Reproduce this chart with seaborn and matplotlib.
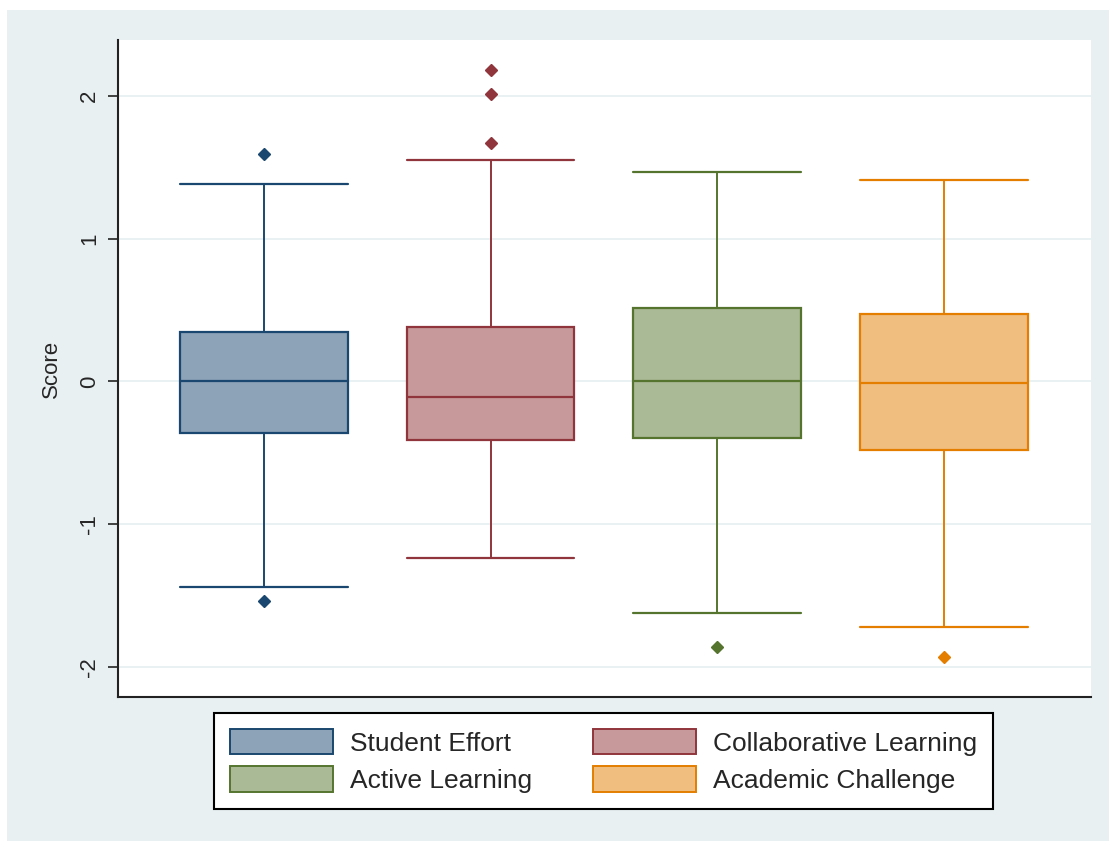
import matplotlib
matplotlib.use("Agg")
import matplotlib.pyplot as plt
from matplotlib.patches import Patch, Rectangle
import numpy as np
import seaborn as sns

# summary statistics
categories = ["Student Effort", "Collaborative Learning", "Active Learning", "Academic Challenge"]
whisker_low = [-1.443, -1.24, -1.625, -1.723]
q1 = [-0.364, -0.413, -0.40, -0.483]
medians = [0.0, -0.112, 0.0, -0.014]
q3 = [0.343, 0.378, 0.511, 0.469]
whisker_high = [1.38, 1.548, 1.464, 1.408]
outliers = [[1.59, -1.54], [2.18, 2.01, 1.67], [-1.863], [-1.933]]

edge_cols = ["#1a476f", "#90353b", "#55752f", "#e37e00"]
fill_cols = ["#8ca3b8", "#c8999b", "#aab996", "#f0be7e"]
bg = "#e9f0f2"

sns.set_style("white")
plt.rcParams["font.family"] = ["Liberation Sans", "DejaVu Sans"]

fig = plt.figure(figsize=(11.09, 8.41), dpi=100)
fig.patch.set_facecolor("white")
fig.patches.append(Rectangle((7 / 1109, 0), 1 - 7 / 1109, 1 - 10 / 841,
                             transform=fig.transFigure, facecolor=bg,
                             edgecolor="none", zorder=-10))

ax = fig.add_axes([118 / 1109, 1 - 697 / 841, (1091 - 118) / 1109, (697 - 40) / 841])
ax.set_facecolor("white")

stats = []
for i, name in enumerate(categories):
    stats.append(dict(label=name, whislo=whisker_low[i], q1=q1[i], med=medians[i],
                      q3=q3[i], whishi=whisker_high[i], fliers=outliers[i]))

positions = np.arange(len(categories))
for i, s in enumerate(stats):
    ec = edge_cols[i]
    ax.bxp([s], positions=[positions[i]], widths=0.74, patch_artist=True,
           boxprops=dict(facecolor=fill_cols[i], edgecolor=ec, linewidth=1.6),
           medianprops=dict(color=ec, linewidth=1.6),
           whiskerprops=dict(color=ec, linewidth=1.4),
           capprops=dict(color=ec, linewidth=1.6),
           flierprops=dict(marker="D", markersize=6.5, markerfacecolor=ec,
                           markeredgecolor=ec),
           capwidths=0.74)

ax.set_xlim(-0.645, 3.65)
ax.set_ylim(-2.21, 2.39)
ax.set_yticks([-2, -1, 0, 1, 2])
ax.set_yticklabels(["-2", "-1", "0", "1", "2"], rotation=90, va="center", fontsize=16)
ax.set_xticks([])
ax.yaxis.grid(True, color="#e6eff1", linewidth=1.2)
ax.set_axisbelow(True)
ax.tick_params(axis="y", left=True, length=7, width=1.2, color="#222222", pad=6)
for side in ["top", "right"]:
    ax.spines[side].set_visible(False)
for side in ["left", "bottom"]:
    ax.spines[side].set_color("#222222")
    ax.spines[side].set_linewidth(1.5)
ax.set_ylabel("Score", fontsize=16, labelpad=12)

# legend reads row-wise, matplotlib fills column-wise
order = [0, 2, 1, 3]
handles = [Patch(facecolor=fill_cols[i], edgecolor=edge_cols[i], linewidth=1.4,
                 label=categories[i]) for i in order]
leg = fig.legend(handles=handles, loc="center", ncol=2,
                 bbox_to_anchor=((207 + 1000) / 2 / 1109, 1 - 761 / 841),
                 fontsize=19, frameon=True, fancybox=False, edgecolor="black",
                 framealpha=1, handlelength=3.9, handleheight=1.1,
                 columnspacing=2.3, handletextpad=0.65, labelspacing=0.4,
                 borderpad=0.6)
leg.get_frame().set_linewidth(1.5)
leg.get_frame().set_facecolor("white")

fig.savefig("out.png", dpi=100, facecolor=fig.get_facecolor())
